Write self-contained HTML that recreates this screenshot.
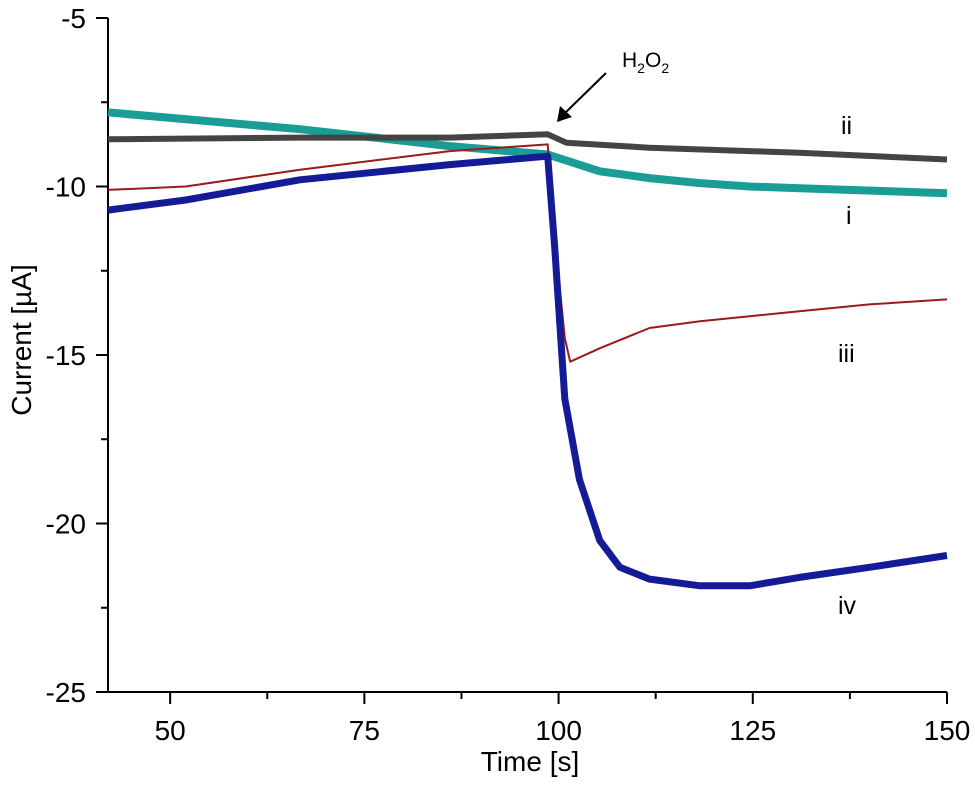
<!DOCTYPE html>
<html><head><meta charset="utf-8"><style>
body{margin:0;background:#fff}
svg{display:block;font-family:"Liberation Sans",Arial,sans-serif}
</style></head><body>
<svg id="chart" width="975" height="787" xmlns="http://www.w3.org/2000/svg">
<g id="axes"></g>
<g id="series"></g>
<g>
<text x="841" y="134" font-size="25">ii</text>
<text x="846" y="224" font-size="25">i</text>
<text x="838" y="362" font-size="25">iii</text>
<text x="838" y="614" font-size="25">iv</text>
<text x="622" y="67" font-size="21">H<tspan font-size="14" dy="6">2</tspan><tspan dy="-6">O</tspan><tspan font-size="14" dy="6">2</tspan></text>
<line x1="606" y1="73" x2="564" y2="114" stroke="#000" stroke-width="2"/>
<polygon points="557,122 560,106 572,117" fill="#000"/>
</g>
</svg>
<script>
const xTicks=[50,75,100,125,150];
const yTicks=[-5,-10,-15,-20,-25];
const tI=[42,66.7,86,98.6,105.3,111.7,118.2,124.6,131,150];
const vI=[-7.8,-8.3,-8.8,-9.05,-9.55,-9.75,-9.9,-10.0,-10.05,-10.2];
const tII=[42,66.7,86,98.6,101,111.7,124.6,131,150];
const vII=[-8.6,-8.55,-8.55,-8.45,-8.7,-8.85,-8.95,-9.0,-9.2];
const tIII=[42,52,66.7,86,98.6,99.5,100.8,101.5,105.3,111.7,118.2,124.6,131,140,150];
const vIII=[-10.1,-10.0,-9.5,-8.95,-8.75,-11.5,-14.5,-15.2,-14.8,-14.2,-14.0,-13.85,-13.7,-13.5,-13.35];
const tIV=[42,52,66.7,86,98.6,99.5,100.8,102.7,105.3,107.9,111.7,118.2,124.6,131,140,150];
const vIV=[-10.7,-10.4,-9.8,-9.35,-9.1,-11.8,-16.3,-18.7,-20.5,-21.3,-21.65,-21.85,-21.85,-21.6,-21.3,-20.95];
const X0=108,X1=947,Y0=18,Y1=692,TMIN=42,TMAX=150,VMAX=-5,VMIN=-25;
const NS="http://www.w3.org/2000/svg";
function sx(t){return X0+(t-TMIN)/(TMAX-TMIN)*(X1-X0);}
function sy(v){return Y0+(VMAX-v)/(VMAX-VMIN)*(Y1-Y0);}
function mk(tag,attrs,parent){const e=document.createElementNS(NS,tag);for(const k in attrs)e.setAttribute(k,attrs[k]);parent.appendChild(e);return e;}
const ax=document.getElementById('axes');
let e=mk('path',{d:`M${X0},${Y0} V${Y1} H${X1}`,fill:'none',stroke:'#000','stroke-width':2},ax);


xTicks.forEach((t,i)=>{
 let l=mk('line',{x1:sx(t),x2:sx(t),y1:Y1,y2:Y1+12,stroke:'#000','stroke-width':2},ax);
 
 
 if(i<xTicks.length-1){let m=mk('line',{x1:sx(t+12.5),x2:sx(t+12.5),y1:Y1,y2:Y1+7,stroke:'#000','stroke-width':2},ax);
 
 }
 let tx=mk('text',{x:sx(t),y:740,'font-size':28,'text-anchor':'middle',fill:'#000'},ax);tx.textContent=t;
 
 
});
yTicks.forEach((v,i)=>{
 let l=mk('line',{x1:X0-12,x2:X0,y1:sy(v),y2:sy(v),stroke:'#000','stroke-width':2},ax);
 
 
 if(i<yTicks.length-1){let m=mk('line',{x1:X0-7,x2:X0,y1:sy(v-2.5),y2:sy(v-2.5),stroke:'#000','stroke-width':2},ax);
 
 }
 let tx=mk('text',{x:86,y:sy(v)+10,'font-size':28,'text-anchor':'end',fill:'#000'},ax);tx.textContent=v;
 
 
});
let xt=mk('text',{x:530,y:771,'font-size':28,'text-anchor':'middle'},ax);xt.textContent='Time [s]';


let yt=mk('text',{x:0,y:0,'font-size':28,'text-anchor':'middle',transform:'translate(31,340) rotate(-90)'},ax);yt.textContent='Current [µA]';


const sg=document.getElementById('series');
function line(ts,vs,col,w,name){
 const d=ts.map((t,i)=>(i?'L':'M')+sx(t).toFixed(1)+','+sy(vs[i]).toFixed(1)).join(' ');
 const p=mk('path',{d:d,fill:'none',stroke:col,'stroke-width':w,'stroke-linejoin':'round'},sg);
 
 
}
line(tI,vI,'#199d95',8,'series-i');
line(tII,vII,'#444444',6,'series-ii');
line(tIII,vIII,'#9b1a1a',2,'series-iii');
line(tIV,vIV,'#141b96',7,'series-iv');
</script>
</body></html>
